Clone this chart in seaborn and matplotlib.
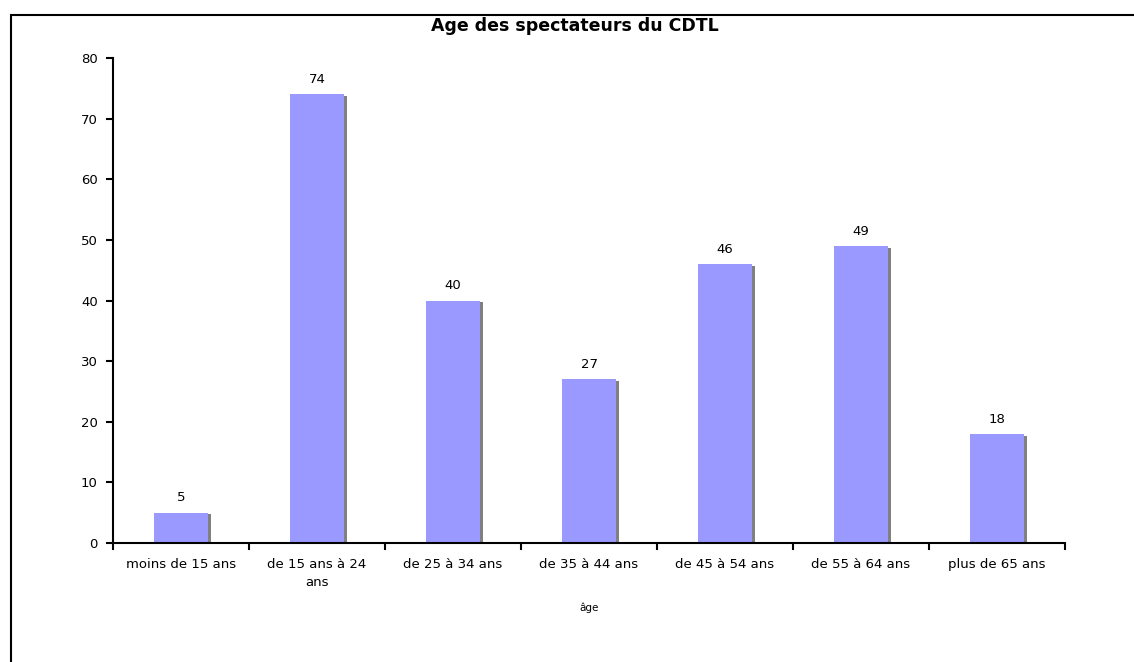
import matplotlib
matplotlib.use("Agg")
import matplotlib.pyplot as plt
import matplotlib.patheffects as pe
from matplotlib.patches import Rectangle
import seaborn as sns
import pandas as pd
import numpy as np

categories = ["moins de 15 ans", "de 15 ans à 24\nans", "de 25 à 34 ans", "de 35 à 44 ans",
              "de 45 à 54 ans", "de 55 à 64 ans", "plus de 65 ans"]
values = [5, 74, 40, 27, 46, 49, 18]
yticks = [0, 10, 20, 30, 40, 50, 60, 70, 80]

sns.set_theme(style="white")
plt.rcParams['font.family'] = ['DejaVu Sans']
plt.rcParams['text.color'] = 'black'
plt.rcParams['xtick.color'] = 'black'
plt.rcParams['ytick.color'] = 'black'
plt.rcParams['axes.labelcolor'] = 'black'

df = pd.DataFrame({"cat": categories, "val": values})

fig = plt.figure(figsize=(11.34, 6.62), dpi=100)
ax = fig.add_axes([113/1134, 1-543/662, (1065-113)/1134, (543-58)/662])

sns.barplot(data=df, x="cat", y="val", color="#9999FF", width=0.4, ax=ax, saturation=1)
for p in ax.patches:
    p.set_linewidth(0)
    p.set_path_effects([pe.SimplePatchShadow(offset=(2.2, -1.2), shadow_rgbFace="#808080", alpha=1.0),
                        pe.Normal()])

for i, v in enumerate(values):
    ax.annotate(str(v), (i, v), xytext=(0, 6), textcoords="offset points",
                ha="center", va="bottom", fontsize=9.5, color="black")

ax.set_ylim(0, 80)
ax.set_xlim(-0.5, len(categories) - 0.5)
ax.set_yticks(yticks)
ax.set_yticklabels([str(t) for t in yticks], fontsize=9.5)
ax.set_xticks(range(len(categories)))
ax.set_xticklabels(categories, fontsize=9.5, linespacing=1.45)
ax.set_xticks(np.arange(-0.5, len(categories), 1.0), minor=True)
ax.tick_params(axis="x", which="major", length=0, pad=11)
ax.tick_params(axis="x", which="minor", length=5, width=1.5, direction="out", color="black", bottom=True)
ax.tick_params(axis="y", length=5, width=1.5, direction="out", color="black", left=True, pad=6)
for s in ["top", "right"]:
    ax.spines[s].set_visible(False)
for s in ["left", "bottom"]:
    ax.spines[s].set_color("black")
    ax.spines[s].set_linewidth(1.5)
ax.set_ylabel("")
ax.set_xlabel("âge", fontsize=7.5, labelpad=10)

fig.text(575/1134, 1-26/662, "Age des spectateurs du CDTL", ha="center", va="center",
         fontsize=12.5, fontweight="bold", color="black")

fig.patches.append(Rectangle((11/1134, -0.05), 1.1, 1-15/662+0.05, transform=fig.transFigure,
                             fill=False, edgecolor="black", linewidth=1.5))

fig.savefig("out.png", dpi=100)
